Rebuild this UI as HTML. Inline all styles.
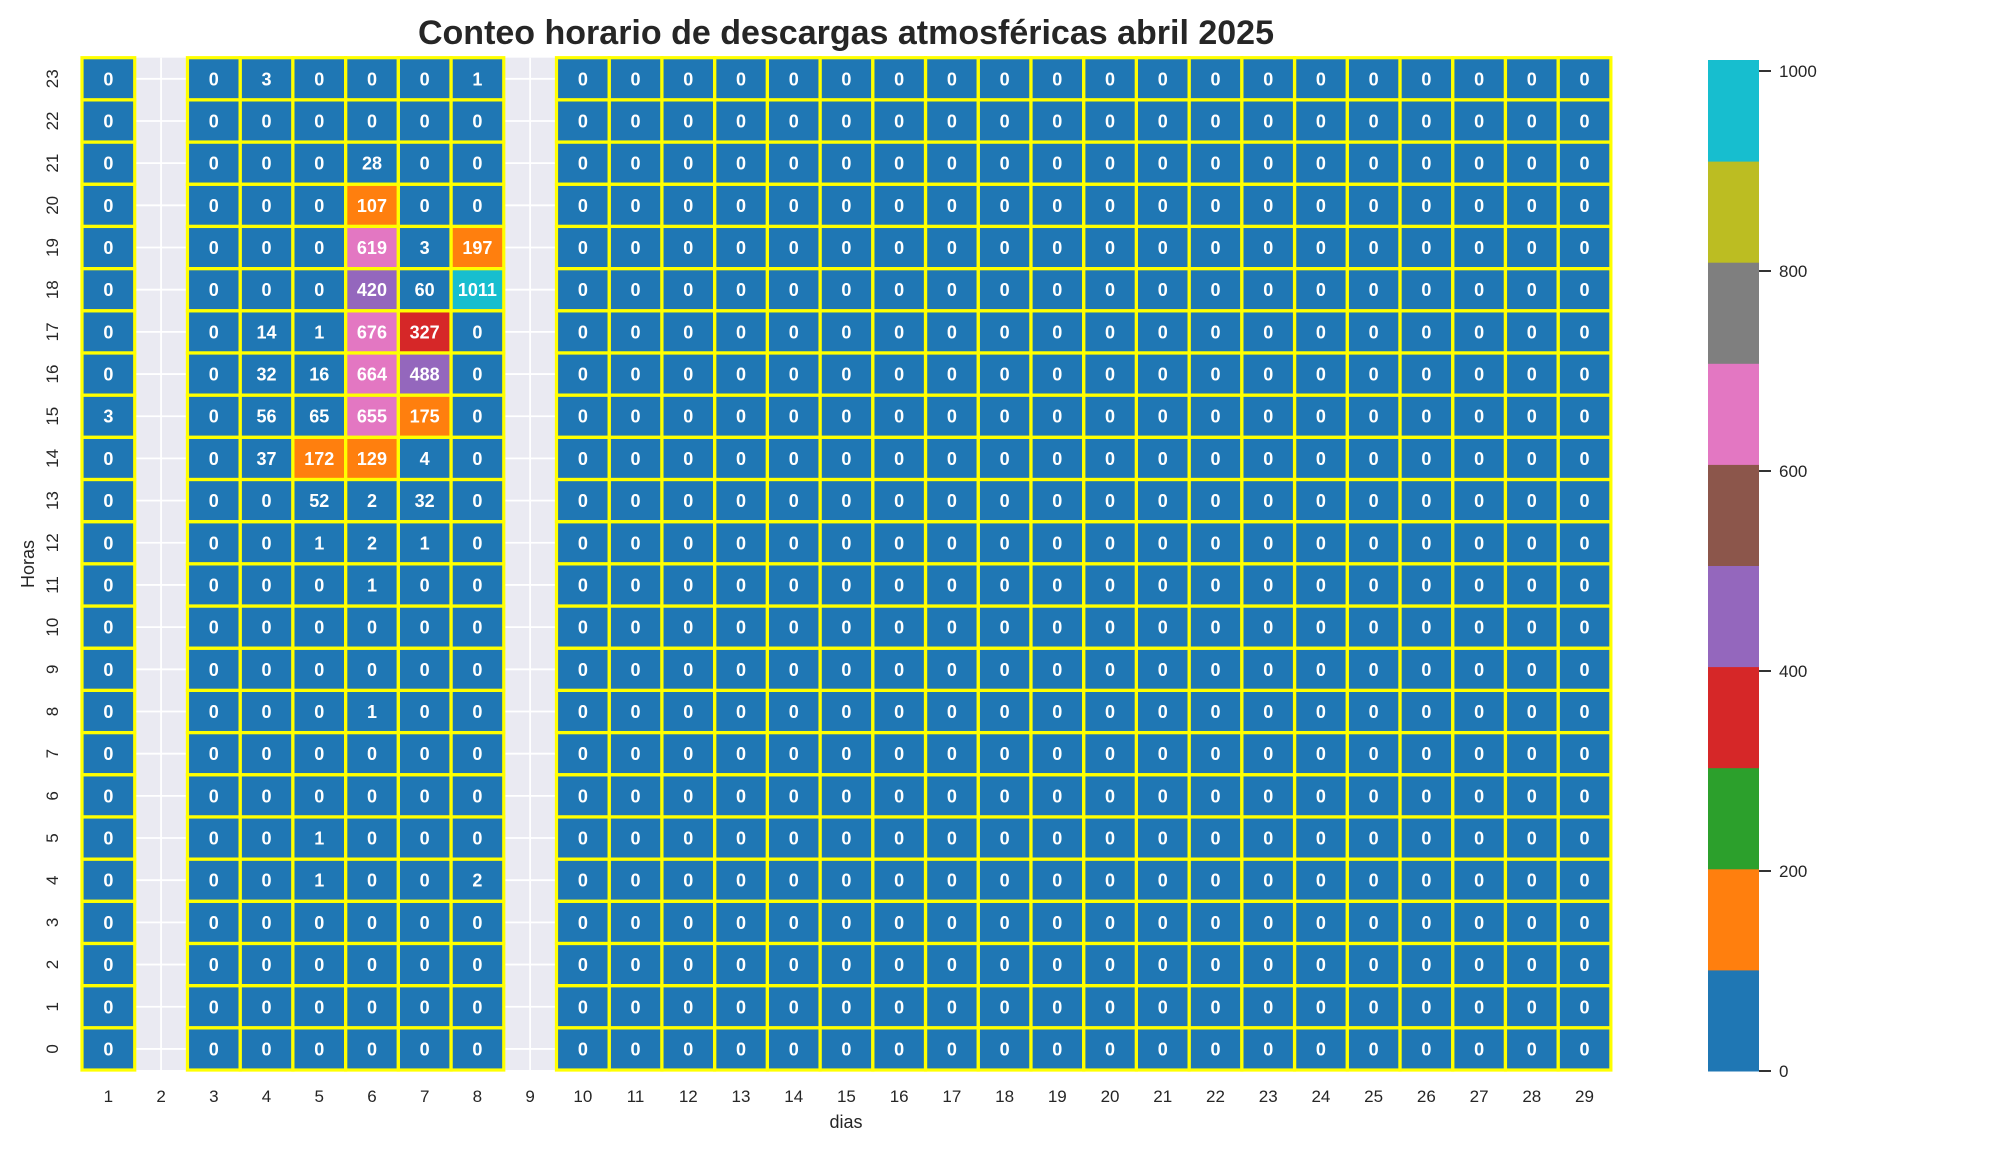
<!DOCTYPE html>
<html><head><meta charset="utf-8"><style>
html,body{margin:0;padding:0;background:#fff;}
svg{display:block;font-family:"Liberation Sans",Arial,sans-serif;}
</style></head><body>
<svg id="s" width="2016" height="1152" viewBox="0 0 2016 1152" xmlns="http://www.w3.org/2000/svg">
<text x="846" y="44" text-anchor="middle" font-size="34" font-weight="bold" fill="#262626">Conteo horario de descargas atmosféricas abril 2025</text>
<text x="846" y="1128" text-anchor="middle" font-size="18" fill="#262626">dias</text>
<text transform="translate(34,564) rotate(-90)" text-anchor="middle" font-size="18" fill="#262626">Horas</text>
<g id="g"></g>
</svg>
<script>
const NS="http://www.w3.org/2000/svg";
const g=document.getElementById('g');
function el(t,a,txt){const e=document.createElementNS(NS,t);for(const k in a)e.setAttribute(k,a[k]);if(txt!==undefined)e.textContent=txt;g.appendChild(e);return e;}
const L=82,T=57.7,W=52.72,H=42.18;
const data={1:{15:3},4:{23:3,17:14,16:32,15:56,14:37},5:{17:1,16:16,15:65,14:172,13:52,12:1,5:1,4:1},
6:{21:28,20:107,19:619,18:420,17:676,16:664,15:655,14:129,13:2,12:2,11:1,8:1},
7:{19:3,18:60,17:327,16:488,15:175,14:4,13:32,12:1},8:{23:1,19:197,18:1011,4:2}};
const cols=["#1f77b4","#ff7f0e","#2ca02c","#d62728","#9467bd","#8c564b","#e377c2","#7f7f7f","#bcbd22","#17becf"];
const MAX=1011;
function col(v){let b=Math.floor(v/(MAX/10));if(b>9)b=9;return cols[b];}
[2,9].forEach(d=>{const x=L+(d-1)*W;el('rect',{x:x,y:T,width:W,height:24*H,fill:'#eaeaf2'});
el('line',{x1:x+W/2,x2:x+W/2,y1:T,y2:T+24*H,stroke:'#fff','stroke-width':1.8});
for(let r=0;r<24;r++){const y=T+r*H+H/2;el('line',{x1:x,x2:x+W,y1:y,y2:y,stroke:'#fff','stroke-width':1.8});}});
const cells=[];
for(let d=1;d<=29;d++){if(d==2||d==9)continue;
for(let h=0;h<24;h++){const v=(data[d]&&data[d][h])||0;const x=L+(d-1)*W,y=T+(23-h)*H;
cells.push([x,y,v]);el('rect',{x:x,y:y,width:W,height:H,fill:col(v)});}}
cells.forEach(([x,y,v])=>el('rect',{x:x,y:y,width:W,height:H,fill:'none',stroke:'#ffff00','stroke-width':3.2}));
cells.forEach(([x,y,v])=>el('text',{x:x+W/2,y:y+H/2+6.5,'text-anchor':'middle','font-size':18,'font-weight':'bold',fill:'#fff'},String(v)));
for(let d=1;d<=29;d++){el('text',{x:L+(d-1)*W+W/2,y:1102,'text-anchor':'middle','font-size':17,fill:'#262626'},String(d));}
for(let h=0;h<24;h++){const y=T+(23-h)*H+H/2;el('text',{transform:`translate(58,${y}) rotate(-90)`,'text-anchor':'middle','font-size':17,fill:'#262626'},String(h));}
const CB=1071,CX=1708,CW=51;const pu=1.0;
for(let i=0;i<10;i++){const v0=i*MAX/10,v1=(i+1)*MAX/10;el('rect',{x:CX,y:CB-v1*pu,width:CW,height:(v1-v0)*pu+0.5,fill:cols[i]});}
for(let t=0;t<=1000;t+=200){const y=CB-t*pu;el('line',{x1:CX+CW,x2:CX+CW+12,y1:y,y2:y,stroke:'#333','stroke-width':2});
el('text',{x:CX+CW+20,y:y+6,'font-size':17,fill:'#262626'},String(t));}
</script>
</body></html>
